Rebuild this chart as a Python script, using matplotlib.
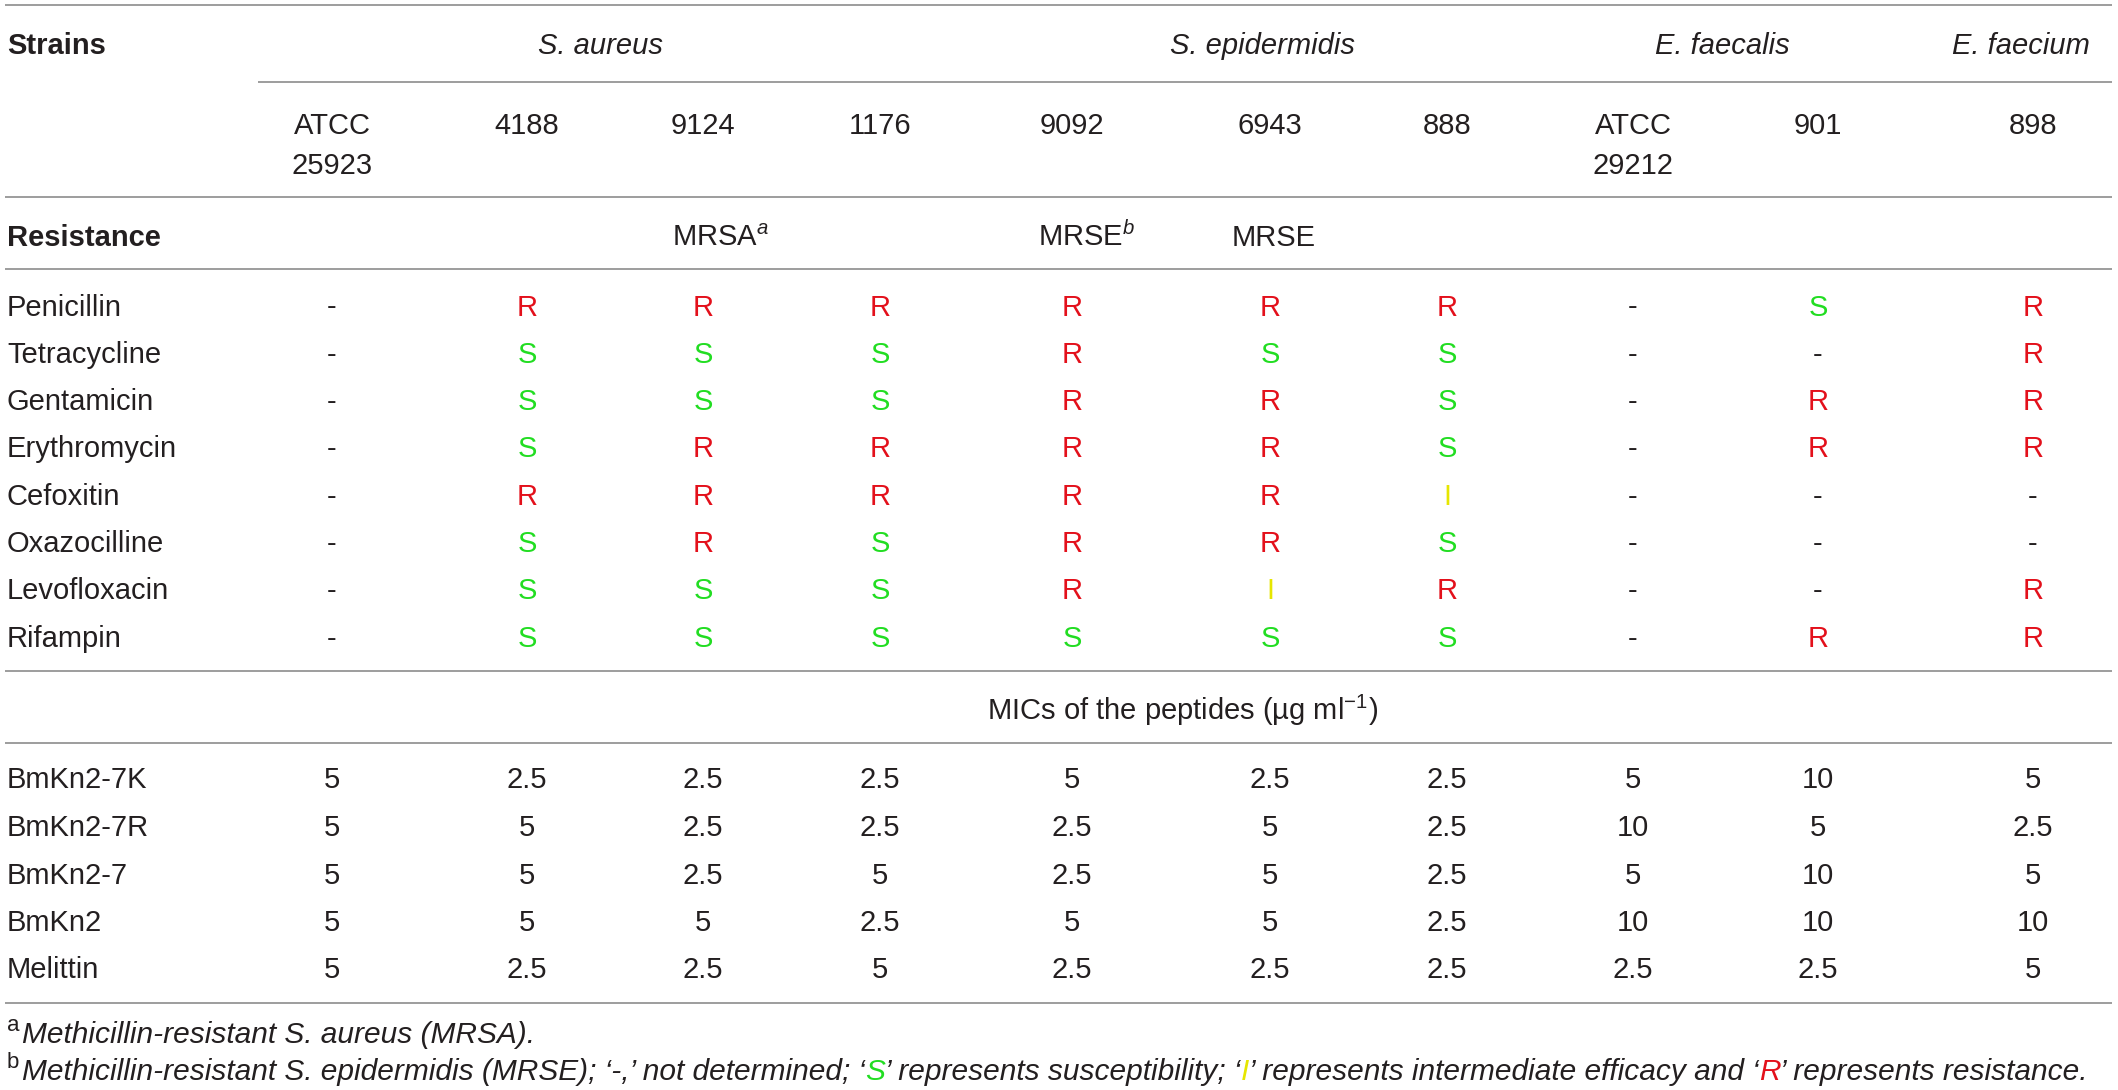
import matplotlib
matplotlib.use("Agg")
import matplotlib.pyplot as plt

# ---------------- data ----------------
species = ["S. aureus", "S. epidermidis", "E. faecalis", "E. faecium"]
strains = ["ATCC\n25923", "4188", "9124", "1176", "9092", "6943", "888",
           "ATCC\n29212", "901", "898"]
resistance_notes = {2: ("MRSA", "a"), 4: ("MRSE", "b"), 5: ("MRSE", "")}

antibiotics = ["Penicillin", "Tetracycline", "Gentamicin", "Erythromycin",
               "Cefoxitin", "Oxazocilline", "Levofloxacin", "Rifampin"]
susceptibility = [
    ["-", "R", "R", "R", "R", "R", "R", "-", "S", "R"],
    ["-", "S", "S", "S", "R", "S", "S", "-", "-", "R"],
    ["-", "S", "S", "S", "R", "R", "S", "-", "R", "R"],
    ["-", "S", "R", "R", "R", "R", "S", "-", "R", "R"],
    ["-", "R", "R", "R", "R", "R", "I", "-", "-", "-"],
    ["-", "S", "R", "S", "R", "R", "S", "-", "-", "-"],
    ["-", "S", "S", "S", "R", "I", "R", "-", "-", "R"],
    ["-", "S", "S", "S", "S", "S", "S", "-", "R", "R"],
]

peptides = ["BmKn2-7K", "BmKn2-7R", "BmKn2-7", "BmKn2", "Melittin"]
mics = [
    ["5", "2.5", "2.5", "2.5", "5", "2.5", "2.5", "5", "10", "5"],
    ["5", "5", "2.5", "2.5", "2.5", "5", "2.5", "10", "5", "2.5"],
    ["5", "5", "2.5", "5", "2.5", "5", "2.5", "5", "10", "5"],
    ["5", "5", "5", "2.5", "5", "5", "2.5", "10", "10", "10"],
    ["5", "2.5", "2.5", "5", "2.5", "2.5", "2.5", "2.5", "2.5", "5"],
]

# ---------------- layout / style ----------------
W, H = 2118, 1090
col_x = [332, 527, 703, 880, 1072, 1270, 1447, 1633, 1818, 2033]
species_x = [600, 1262, 1722, 2021]
note_left = {2: 672, 4: 1038, 5: 1232}
label_x = 7
FONT = "Liberation Sans"
FS = 21
FS_FOOT = 21.5
TXT = "#231f20"
LINE = "#9d9d9d"
COLORS = {"R": "#e3101b", "S": "#22dd22", "I": "#e6e600", "-": TXT}
CAP = 10.5  # half cap height in px (baseline offset from cap centre)

plt.rcParams["mathtext.fontset"] = "custom"
plt.rcParams["mathtext.rm"] = FONT
plt.rcParams["mathtext.it"] = FONT + ":italic"
plt.rcParams["mathtext.bf"] = FONT + ":bold"

fig = plt.figure(figsize=(W / 100, H / 100), dpi=100)
ax = fig.add_axes([0, 0, 1, 1])
ax.set_xlim(0, W)
ax.set_ylim(H, 0)
ax.axis("off")


def txt(x, yc, s, ha="center", color=TXT, size=FS, **kw):
    return ax.text(x, yc + CAP * size / FS, s, ha=ha, va="baseline",
                   color=color, fontsize=size, family=FONT, **kw)


def hline(y, x0=5, x1=2112):
    ax.plot([x0, x1], [y, y], color=LINE, lw=1.4, solid_capstyle="butt")


# rules
for y in [5, 197, 269, 671, 743, 1003]:
    hline(y)
hline(82, x0=258)

# header
txt(label_x, 43, "Strains", ha="left", fontweight="bold")
for sx, name in zip(species_x, species):
    txt(sx, 43, name, style="italic")
for cx, s in zip(col_x, strains):
    parts = s.split("\n")
    txt(cx, 124, parts[0])
    if len(parts) > 1:
        txt(cx, 163, parts[1])

# resistance row
txt(label_x, 235, "Resistance", ha="left", fontweight="bold")
for ci, (base, sup) in resistance_notes.items():
    s = base + (f"$^{{{sup}}}$" if sup else "")
    txt(note_left[ci], 235, s, ha="left")

row0, step = 305, 47.3
for ri, (ab, row) in enumerate(zip(antibiotics, susceptibility)):
    y = row0 + ri * step
    txt(label_x, y, ab, ha="left")
    for cx, v in zip(col_x, row):
        txt(cx, y, v, color=COLORS[v])

txt((col_x[0] + col_x[-1]) / 2, 710, "MICs of the peptides (\u00b5g ml$^{-1}$)")

row1, step2 = 778, 47.5
for ri, (pp, row) in enumerate(zip(peptides, mics)):
    y = row1 + ri * step2
    txt(label_x, y, pp, ha="left")
    for cx, v in zip(col_x, row):
        txt(cx, y, v)

# footnotes
fig.canvas.draw()
renderer = fig.canvas.get_renderer()


def width_of(s, **kw):
    t1 = ax.text(0, 0, "|" + s + "|", **kw)
    t2 = ax.text(0, 0, "||", **kw)
    w = t1.get_window_extent(renderer).width - t2.get_window_extent(renderer).width
    t1.remove()
    t2.remove()
    return w


def runs(x, yc, pieces, size):
    for s, col in pieces:
        kw = dict(fontsize=size, family=FONT, style="italic")
        txt(x, yc, s, ha="left", color=col, size=size, style="italic")
        x += width_of(s, **kw)


foot_a = [("Methicillin-resistant S. aureus (MRSA).", TXT)]
foot_b = [("Methicillin-resistant S. epidermidis (MRSE); \u2018-,\u2019 not determined; \u2018", TXT),
          ("S", COLORS["S"]),
          ("\u2019 represents susceptibility; \u2018", TXT),
          ("I", COLORS["I"]),
          ("\u2019 represents intermediate efficacy and \u2018", TXT),
          ("R", COLORS["R"]),
          ("\u2019 represents resistance.", TXT)]

for yc, mark, pieces in [(1032, "a", foot_a), (1069, "b", foot_b)]:
    ax.text(label_x, yc - 1, mark, ha="left", va="baseline", color=TXT,
            fontsize=16, family=FONT)
    runs(22, yc, pieces, FS_FOOT)

fig.savefig("out.png", dpi=100)
